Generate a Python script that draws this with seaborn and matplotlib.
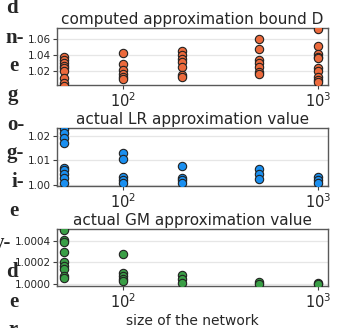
import numpy as np
import pandas as pd
import matplotlib
matplotlib.use("Agg")
import matplotlib.pyplot as plt
import seaborn as sns
from matplotlib.ticker import NullLocator, LogLocator, LogFormatterMathtext

# ---- data ----
sizes = [50, 100, 200, 500, 1000]

bound_D = {
    50:   [1.038, 1.034, 1.030, 1.026, 1.023, 1.019, 1.011, 1.004, 1.001],
    100:  [1.042, 1.028, 1.021, 1.016, 1.012, 1.010],
    200:  [1.045, 1.040, 1.035, 1.0315, 1.025, 1.0145, 1.0116],
    500:  [1.060, 1.0477, 1.0336, 1.0294, 1.0251, 1.0187, 1.0154],
    1000: [1.073, 1.052, 1.041, 1.038, 1.036, 1.023, 1.019, 1.0124, 1.0081, 1.005],
}
lr_value = {
    50:   [1.0225, 1.021, 1.019, 1.017, 1.007, 1.006, 1.0045, 1.003, 1.001],
    100:  [1.013, 1.0105, 1.0035, 1.002, 1.001],
    200:  [1.0079, 1.0031, 1.0021, 1.001],
    500:  [1.0064, 1.0044, 1.0024],
    1000: [1.0035, 1.0021, 1.0008],
}
gm_value = {
    50:   [1.000498, 1.000406, 1.000388, 1.000296, 1.000204, 1.000168, 1.000138, 1.000076, 1.000061],
    100:  [1.000275, 1.0001, 1.00008, 1.00005, 1.00003],
    200:  [1.000085, 1.000046, 1.00001],
    500:  [1.000024, 1.000003],
    1000: [1.00001, 1.000001],
}

titles = ["computed approximation bound D",
          "actual LR approximation value",
          "actual GM approximation value"]
xlabel = "size of the network"
colors = ["#ec6a3c", "#1a8ff0", "#3a9e46"]
ylims = [(1.0018, 1.0744), (0.9997, 1.0231), (0.999984, 1.000507)]
yticks = [[1.02, 1.04, 1.06], [1.00, 1.01, 1.02], [1.0000, 1.0002, 1.0004]]
yticklabels = [["1.02", "1.04", "1.06"], ["1.00", "1.01", "1.02"],
               ["1.0000", "1.0002", "1.0004"]]

margin_lines = [("d", 8, 18), ("n-", 38, 24), ("e", 66, 18), ("g", 95, 18),
                ("o-", 125, 24), ("g-", 153, 24), ("i-", 182, 24),
                ("e", 211, 18), ("y-", 243, 11), ("d", 272, 18),
                ("e", 302, 18), ("r", 330, 18)]


def to_df(d):
    rows = [(n, v) for n in sizes for v in d[n]]
    return pd.DataFrame(rows, columns=["size", "value"])


sns.set_style("ticks")
plt.rcParams["font.family"] = ["DejaVu Sans"]

W, H = 339, 328
fig = plt.figure(figsize=(W / 100, H / 100), dpi=100)

boxes = [(28, 85), (128, 186), (229, 286)]
left_px, right_px = 57, 328

for i, (data, (t, b)) in enumerate(zip([bound_D, lr_value, gm_value], boxes)):
    ax = fig.add_axes([left_px / W, 1 - b / H, (right_px - left_px) / W, (b - t) / H])
    df = to_df(data)
    sns.scatterplot(data=df, x="size", y="value", ax=ax, color=colors[i],
                    edgecolor="#222222", linewidth=0.8, s=36, zorder=3,
                    legend=False)
    ax.set_xscale("log")
    ax.set_xlim(46, 1125)
    ax.set_ylim(*ylims[i])
    ax.xaxis.set_major_locator(LogLocator(base=10))
    ax.xaxis.set_major_formatter(LogFormatterMathtext())
    ax.xaxis.set_minor_locator(NullLocator())
    ax.set_yticks(yticks[i])
    ax.set_yticklabels(yticklabels[i])
    ax.tick_params(axis="y", labelsize=7.5, length=3, width=0.8, pad=1.5,
                   color="0.25")
    ax.tick_params(axis="x", labelsize=10.5, length=3, width=0.8, pad=1.5,
                   color="0.25")
    ax.grid(axis="y", color="#e6e6e6", linewidth=0.9, zorder=0)
    ax.set_axisbelow(True)
    for side, sp in ax.spines.items():
        sp.set_color("0.35")
        sp.set_linewidth(1.0)
    ax.set_xlabel("")
    ax.set_ylabel("")
    ax.set_title(titles[i], fontsize=11, pad=3)

ax.set_xlabel(xlabel, fontsize=10, labelpad=2)

for txt, y, xr in margin_lines:
    fig.text(xr / W, 1 - y / H, txt, ha="right", va="center",
             family=["Liberation Serif", "DejaVu Serif"], fontweight="bold",
             fontsize=15)

fig.savefig("out.png", dpi=100)
